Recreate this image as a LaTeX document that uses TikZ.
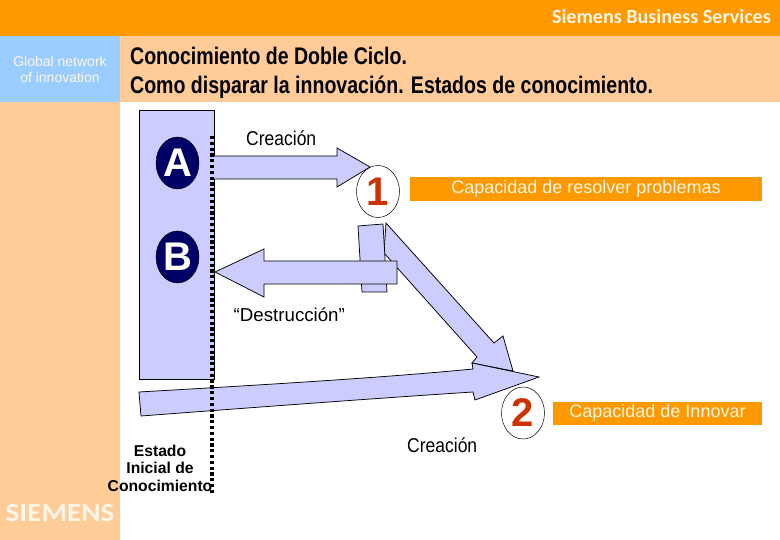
\documentclass[tikz,border=0pt]{standalone}
\usepackage{graphicx}
\usepackage{fontspec}
\setmainfont{Liberation Sans}
\newfontfamily\hdfont{Carlito}
\definecolor{orangebar}{HTML}{FF9900}
\definecolor{peach}{HTML}{FFCC99}
\definecolor{skyb}{HTML}{99CCFF}
\definecolor{lav}{HTML}{CCCCFF}
\definecolor{navyc}{HTML}{000066}
\definecolor{numred}{HTML}{CC3300}
\definecolor{softw}{HTML}{FFF6E8}
\usetikzlibrary{shapes.geometric}
\tikzset{
  arrowshape/.style={draw=black,fill=lav,line width=0.75pt,line join=miter},
  letter/.style={ellipse,draw=black,fill=navyc,text=white,minimum width=43pt,minimum height=52pt,inner sep=0pt,font=\fontsize{40}{40}\selectfont\bfseries},
  numc/.style={ellipse,draw=black,line width=0.5pt,fill=white,text=numred,minimum width=43pt,minimum height=52pt,inner sep=0pt,font=\fontsize{40}{40}\selectfont\bfseries},
  orangelabel/.style={fill=orangebar,text=softw,inner sep=0pt,font=\fontsize{18}{18}\selectfont},
  blacklabel/.style={text=black,inner sep=0pt,anchor=west},
  titlelabel/.style={anchor=west,inner sep=0pt,font=\fontsize{24}{24}\selectfont\bfseries}
}
\begin{document}
\begin{tikzpicture}[x=1pt,y=-1pt]
\useasboundingbox (0,0) rectangle (780,540);
\fill[white] (0,0) rectangle (780,540);
\fill[peach] (0,36) rectangle (780,102);
\fill[peach] (0,102) rectangle (120,540);
\fill[skyb] (0,36) rectangle (120,102);
\fill[orangebar] (0,0) rectangle (780,36);
\node[text=softw,anchor=east,inner sep=0pt,font=\hdfont\fontsize{20.1}{20.1}\selectfont\bfseries] (brand) at (771,17) {Siemens Business Services};
\node[text=softw,align=center,inner sep=0pt,font=\fontsize{14}{16.5}\selectfont] (gn) at (60,69.5) {Global network\\of innovation};
\node[titlelabel] (t1) at (130,56) {\scalebox{.814}[1]{Conocimiento de Doble Ciclo.}};
\node[titlelabel] (t2) at (130,87) {\scalebox{.814}[1]{Como disparar la innovación. Estados de conocimiento.}};
\node[draw=black,fill=lav,line width=0.75pt,minimum width=75pt,minimum height=269pt,inner sep=0pt,anchor=north west] (block) at (139,110) {};
\node[letter] (A) at (177.5,163) {A};
\node[letter] (B) at (177.5,257) {B};
\node[numc] (n1) at (378,191.5) {1};
\node[numc] (n2) at (523,413) {2};
% diagonal arrow
\draw[arrowshape] (386,223) -- (494,343) -- (503,336) -- (513,371) -- (472,363) -- (477,357) -- (384,253) -- cycle;
% small block
\draw[arrowshape] (358,226) -- (383,224) -- (387,292) -- (362,292) -- cycle;
% arrow A
\draw[arrowshape] (214,156) -- (337,156) -- (337,148) -- (370,167) -- (337,187) -- (337,179) -- (214,179);
% arrow B
\draw[arrowshape] (397,261) -- (264,261) -- (264,249) -- (215,272) -- (264,297) -- (264,284) -- (397,284) -- cycle;
% long arrow
\draw[arrowshape] (139,392) .. controls (260,385) and (380,378) .. (473,369) -- (472,363) -- (539,377) -- (475,400) -- (473,392) .. controls (380,398) and (260,407) .. (141,416) -- cycle;
\coordinate (dtop) at (212,136);
\coordinate (dbot) at (212,493);
\draw[black,line width=4pt,dash pattern=on 3.2pt off 2.6pt] (dtop) -- (dbot);
\node[blacklabel] (c1) at (246,138) {\fontsize{20}{20}\selectfont\scalebox{.875}[1]{Creación}};
\node[blacklabel,font=\fontsize{18.7}{18.7}\selectfont] (d) at (233.5,314.5) {“Destrucción”};
\node[blacklabel] (c2) at (407,445) {\fontsize{20}{20}\selectfont\scalebox{.875}[1]{Creación}};
\node[orangelabel,minimum width=352pt,minimum height=24pt] (cap1) at (586,189) {Capacidad de resolver problemas};
\node[orangelabel,minimum width=209pt,minimum height=22.7pt] (cap2) at (657.5,413.3) {Capacidad de Innovar};
\node[align=center,inner sep=0pt,font=\fontsize{15.7}{17.8}\selectfont\bfseries,anchor=north] (est) at (160,444.5) {Estado\\Inicial de\\Conocimiento};
\node[text=softw,inner sep=0pt,font=\hdfont\fontsize{26}{26}\selectfont\bfseries] (sie) at (60,513.5) {\scalebox{1.125}[1]{SIEMENS}};
\end{tikzpicture}
\end{document}
